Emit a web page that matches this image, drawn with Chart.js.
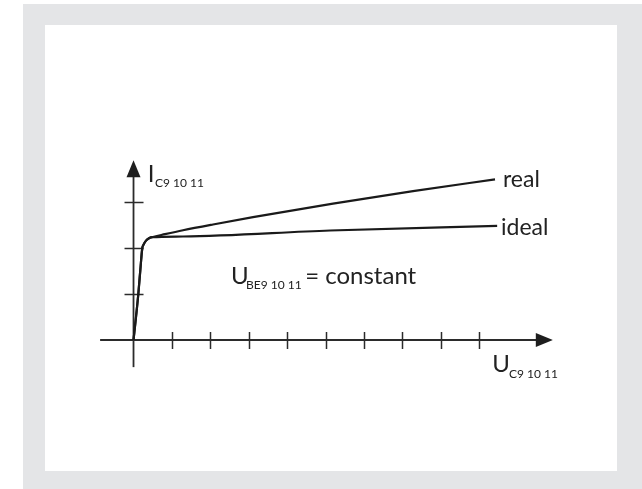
<!DOCTYPE html>
<html>
<head>
<meta charset="utf-8">
<title>Output characteristic</title>
<script src="https://cdn.jsdelivr.net/npm/chart.js@4.4.1/dist/chart.umd.min.js"></script>
<style>
  html, body { margin: 0; padding: 0; background: #fff; }
  #frame { position: absolute; left: 23px; top: 4px; width: 619px; height: 485px; background: #e4e5e7; }
  #panel { position: absolute; left: 45px; top: 25px; width: 572px; height: 446px; background: #fff; }
  #chart { position: absolute; left: 0; top: 0; }
</style>
</head>
<body>
<div id="frame"></div>
<div id="panel"></div>
<canvas id="chart" width="642" height="489"></canvas>
<script>
// curve points (U on x, I on y), in tick units
const riseX  = [0, 0.065, 0.125, 0.177, 0.229, 0.26, 0.326, 0.404, 0.482];
const riseY  = [0, 0.50, 1.00, 1.52, 2.00, 2.07, 2.16, 2.213, 2.235];
const realX  = [0.82, 1.289, 2.07, 3.112, 5.195, 7.279, 9.414];
const realY  = [2.30, 2.385, 2.511, 2.67, 2.963, 3.235, 3.493];
const idealX = [1.289, 5.12, 9.47];
const idealY = [2.25, 2.38, 2.48];

// axis ticks
const xTicks = [1, 2, 3, 4, 5, 6, 7, 8, 9];
const yTicks = [1, 2, 3];

function points(xs, ys) {
  return xs.map((x, i) => ({ x: x, y: ys[i] }));
}

const realData = points(riseX, riseY).concat(points(realX, realY));
const idealData = points(riseX, riseY).concat(points(idealX, idealY));

// axis extents and text placement in data units
const axis = { xFrom: -0.87, xTo: 10.92, yFrom: -0.59, yTo: 3.91, head: 17, half: 7 };
const labels = [
  { text: 'I', x: 0.37, y: 3.44, size: 24 },
  { text: 'C9 10 11', x: 0.56, y: 3.33, size: 12 },
  { text: 'real', x: 9.62, y: 3.33, size: 23 },
  { text: 'ideal', x: 9.57, y: 2.28, size: 23 },
  { text: 'U', x: 2.54, y: 1.217, size: 24 },
  { text: 'BE9 10 11', x: 2.93, y: 1.109, size: 12 },
  { text: '= constant', x: 4.47, y: 1.217, size: 24 },
  { text: 'U', x: 9.34, y: -0.696, size: 24 },
  { text: 'C9 10 11', x: 9.78, y: -0.826, size: 12 }
];

const axesPlugin = {
  id: 'crossAxes',
  beforeDatasetsDraw(chart) {
    const { ctx, scales: { x, y } } = chart;
    const ox = x.getPixelForValue(0);
    const oy = y.getPixelForValue(0);
    ctx.save();
    ctx.strokeStyle = '#2b2b2b';
    ctx.fillStyle = '#1e1e1e';
    ctx.lineWidth = 1.8;

    // x axis with arrow
    const xEnd = x.getPixelForValue(axis.xTo);
    ctx.beginPath();
    ctx.moveTo(x.getPixelForValue(axis.xFrom), oy);
    ctx.lineTo(xEnd - axis.head + 2, oy);
    ctx.stroke();
    ctx.beginPath();
    ctx.moveTo(xEnd, oy);
    ctx.lineTo(xEnd - axis.head, oy - axis.half);
    ctx.lineTo(xEnd - axis.head, oy + axis.half);
    ctx.closePath();
    ctx.fill();

    // y axis with arrow
    const yEnd = y.getPixelForValue(axis.yTo);
    ctx.beginPath();
    ctx.moveTo(ox, y.getPixelForValue(axis.yFrom));
    ctx.lineTo(ox, yEnd + axis.head - 2);
    ctx.stroke();
    ctx.beginPath();
    ctx.moveTo(ox, yEnd);
    ctx.lineTo(ox - axis.half, yEnd + axis.head);
    ctx.lineTo(ox + axis.half, yEnd + axis.head);
    ctx.closePath();
    ctx.fill();

    // tick marks crossing the axes
    ctx.lineWidth = 1.5;
    xTicks.forEach(v => {
      const px = Math.round(x.getPixelForValue(v)) + 0.5;
      ctx.beginPath();
      ctx.moveTo(px, oy - 8);
      ctx.lineTo(px, oy + 9);
      ctx.stroke();
    });
    yTicks.forEach(v => {
      const py = Math.round(y.getPixelForValue(v)) + 0.5;
      ctx.beginPath();
      ctx.moveTo(ox - 9, py);
      ctx.lineTo(ox + 10, py);
      ctx.stroke();
    });

    // labels
    ctx.fillStyle = '#222';
    ctx.textBaseline = 'alphabetic';
    ctx.textAlign = 'left';
    labels.forEach(l => {
      ctx.font = l.size + 'px Lato';
      ctx.fillText(l.text, x.getPixelForValue(l.x), y.getPixelForValue(l.y));
    });
    ctx.restore();
  }
};

new Chart(document.getElementById('chart'), {
  type: 'line',
  data: {
    datasets: [
      { label: 'real', data: realData },
      { label: 'ideal', data: idealData }
    ]
  },
  options: {
    responsive: false,
    animation: false,
    layout: { padding: 0 },
    elements: {
      point: { radius: 0 },
      line: { borderColor: '#1a1a1a', borderWidth: 2.2, cubicInterpolationMode: 'monotone', fill: false }
    },
    plugins: { legend: { display: false }, tooltip: { enabled: false } },
    scales: {
      x: { type: 'linear', display: false, min: -3.477, max: 13.242 },
      y: { type: 'linear', display: false, min: -3.239, max: 7.391 }
    }
  },
  plugins: [axesPlugin]
});
</script>
</body>
</html>
